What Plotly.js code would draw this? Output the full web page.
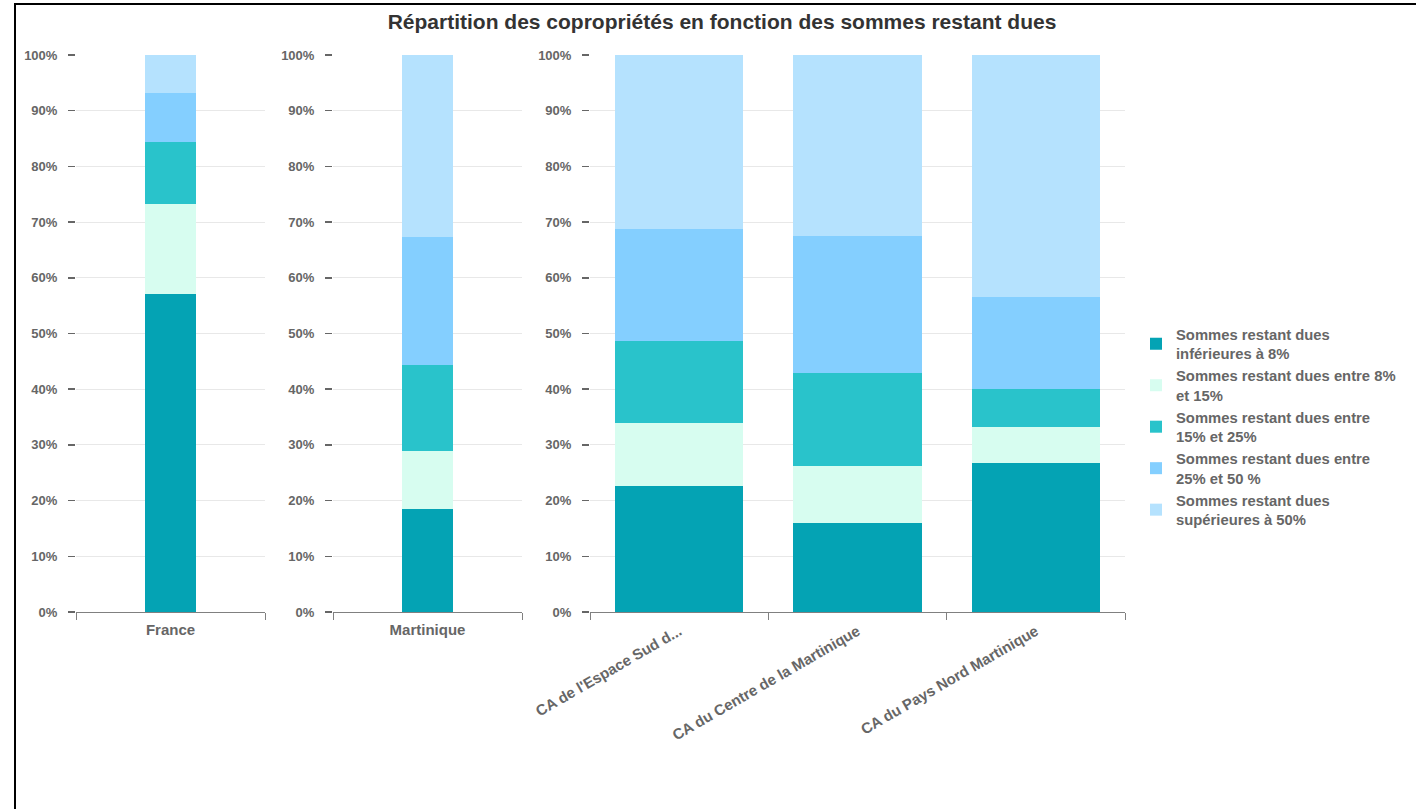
<!DOCTYPE html>
<html>
<head>
<meta charset="utf-8">
<script src="https://cdn.plot.ly/plotly-3.0.1.min.js"></script>
<style>html,body{margin:0;padding:0;background:#fff;}#chart{width:1416px;height:809px;}</style>
</head>
<body>
<div id="chart"></div>
<script>
// ---- Data ----
const categories = ["France", "Martinique", "CA de l'Espace Sud d...", "CA du Centre de la Martinique", "CA du Pays Nord Martinique"];
const seriesNames = [
  "Sommes restant dues<br>inférieures à 8%",
  "Sommes restant dues entre 8%<br>et 15%",
  "Sommes restant dues entre<br>15% et 25%",
  "Sommes restant dues entre<br>25% et 50 %",
  "Sommes restant dues<br>supérieures à 50%"
];
const inf8      = [57.1, 18.5, 22.6, 16.0, 26.8];
const de8a15    = [16.1, 10.4, 11.3, 10.2, 6.4];
const de15a25   = [11.2, 15.4, 14.8, 16.7, 6.8];
const de25a50   = [8.8, 23.0, 20.1, 24.6, 16.6];
const sup50     = [6.8, 32.7, 31.2, 32.5, 43.4];
const seriesValues = [inf8, de8a15, de15a25, de25a50, sup50];
const colors = ["#04a3b4", "#d7fdf0", "#29c3cb", "#84cfff", "#b5e2fe"];

// panel grouping: which categories go in which subplot
const panels = [[0], [1], [2, 3, 4]];
const barWidths = [0.27, 0.27, 0.72];

const W = 1416, H = 809;
const px = v => v / W;
const py = v => 1 - v / H;

const traces = [];
seriesValues.forEach((vals, s) => {
  panels.forEach((idx, p) => {
    traces.push({
      type: 'bar',
      name: seriesNames[s],
      x: idx.map(i => categories[i]),
      y: idx.map(i => vals[i]),
      xaxis: p === 0 ? 'x' : 'x' + (p + 1),
      yaxis: p === 0 ? 'y' : 'y' + (p + 1),
      width: barWidths[p],
      marker: {color: colors[s], line: {width: 0}},
      legendgroup: 'g' + s,
      showlegend: p === 0,
      hoverinfo: 'none'
    });
  });
});

const FAM = 'Liberation Sans, Arial, sans-serif';
const yTickFont = {family: FAM, size: 13, color: '#666666', weight: 'bold'};
const xTickFont = {family: FAM, size: 15, color: '#666666', weight: 'bold'};
const xDomains = [[px(76), px(265)], [px(333), px(522)], [px(590), px(1125)]];
const yDomain = [py(612), py(55)];

const layout = {
  width: W, height: H,
  margin: {l: 0, r: 0, t: 0, b: 0},
  paper_bgcolor: '#ffffff',
  plot_bgcolor: '#ffffff',
  barmode: 'stack',
  hovermode: false,
  title: {
    text: 'Répartition des copropriétés en fonction des sommes restant dues',
    font: {family: FAM, size: 21, color: '#333333', weight: 'bold'},
    x: px(722), xanchor: 'center', xref: 'paper',
    y: py(22), yanchor: 'middle', yref: 'paper'
  },
  legend: {
    x: px(1136), xanchor: 'left',
    y: py(318), yanchor: 'top',
    traceorder: 'normal',
    font: {family: FAM, size: 14.8, color: '#666666', weight: 'bold'},
    bgcolor: 'rgba(0,0,0,0)',
    itemwidth: 30
  },
  shapes: [
    {type: 'line', xref: 'paper', yref: 'paper', x0: px(14), x1: 1, y0: py(4), y1: py(4), line: {color: '#000', width: 2}},
    {type: 'line', xref: 'paper', yref: 'paper', x0: px(15), x1: px(15), y0: py(4), y1: 0, line: {color: '#000', width: 2}}
  ]
};

panels.forEach((idx, p) => {
  const xk = p === 0 ? 'xaxis' : 'xaxis' + (p + 1);
  const yk = p === 0 ? 'yaxis' : 'yaxis' + (p + 1);
  const yid = p === 0 ? 'y' : 'y' + (p + 1);
  const xid = p === 0 ? 'x' : 'x' + (p + 1);
  layout[xk] = {
    domain: xDomains[p],
    anchor: yid,
    type: 'category',
    categoryorder: 'array',
    categoryarray: idx.map(i => categories[i]),
    showline: true, linecolor: '#808080', linewidth: 1,
    ticks: 'outside', tickson: 'boundaries', ticklen: 7, tickcolor: '#808080',
    ticklabelstandoff: 4,
    showgrid: false, zeroline: false,
    tickfont: xTickFont,
    tickangle: p === 2 ? -30 : 0,
    fixedrange: true
  };
  layout[yk] = {
    domain: yDomain,
    anchor: xid,
    range: [0, 100],
    dtick: 10, tick0: 0,
    ticksuffix: '%',
    ticks: 'outside', ticklen: 7, tickcolor: '#666666', tickwidth: 1.5,
    ticklabelstandoff: 8,
    showgrid: true, gridcolor: '#e8e8e8', gridwidth: 1,
    zeroline: false, showline: false,
    tickfont: yTickFont,
    fixedrange: true
  };
});

Plotly.newPlot('chart', traces, layout, {displayModeBar: false, staticPlot: true});
</script>
</body>
</html>
